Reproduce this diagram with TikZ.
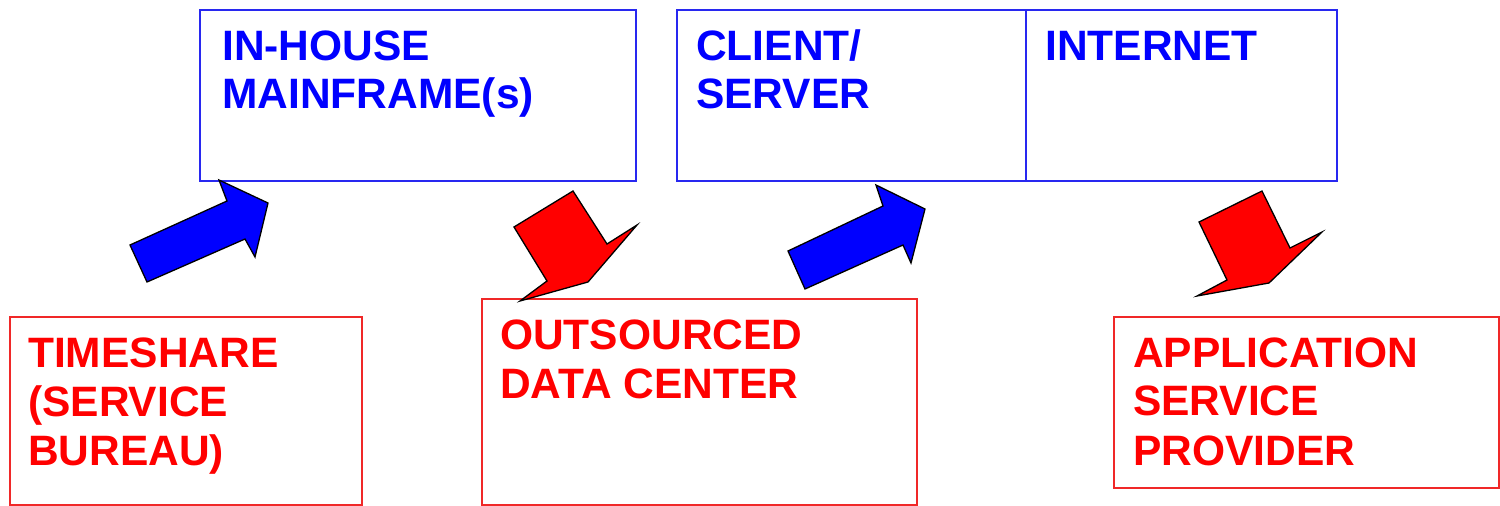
\documentclass[tikz,border=0pt]{standalone}
\usepackage{fontspec}
\setmainfont{Liberation Sans}
\definecolor{bluetxt}{RGB}{0,0,255}
\definecolor{blueline}{RGB}{40,40,240}
\definecolor{redtxt}{RGB}{255,0,0}
\definecolor{redline}{RGB}{240,40,40}
\begin{document}
\begin{tikzpicture}[x=1pt,y=-1pt,
  bluebox/.style={draw=blueline,line width=1.5pt},
  redbox/.style={draw=redline,line width=1.5pt},
  btxt/.style={anchor=base west,inner sep=0pt,text=bluetxt,font=\fontsize{42.5}{49}\selectfont\bfseries},
  rtxt/.style={anchor=base west,inner sep=0pt,text=redtxt,font=\fontsize{42.5}{49}\selectfont\bfseries},
  bluearrow/.style={fill=bluetxt,draw=black,line width=1.3pt,line join=miter},
  redarrow/.style={fill=redtxt,draw=black,line width=1.3pt,line join=miter}]
\useasboundingbox (0,0) rectangle (1500,506);
% top boxes
\draw[bluebox] (200,10) rectangle (636,181);
\draw[bluebox] (677,10) rectangle (1337,181);
\draw[bluebox] (1026,10) -- (1026,181);
\node[btxt] (ih1) at (222,60) {IN-HOUSE};
\node[btxt] (ih2) at (222,108) {MAINFRAME(s)};
\node[btxt] (cs1) at (696,60) {CLIENT/};
\node[btxt] (cs2) at (696,108) {SERVER};
\node[btxt] (inet) at (1045,60) {INTERNET};
% bottom boxes
\draw[redbox] (10,317) rectangle (362,505);
\draw[redbox] (482,299) rectangle (917,505);
\draw[redbox] (1114,317) rectangle (1499,488);
\node[rtxt] (ts1) at (28,367) {TIMESHARE};
\node[rtxt] (ts2) at (28,416) {(SERVICE};
\node[rtxt] (ts3) at (28,465) {BUREAU)};
\node[rtxt] (od1) at (500,349) {OUTSOURCED};
\node[rtxt] (od2) at (500,398) {DATA CENTER};
\node[rtxt] (asp1) at (1133,367) {APPLICATION};
\node[rtxt] (asp2) at (1133,415) {SERVICE};
\node[rtxt] (asp3) at (1133,465) {PROVIDER};
% arrows
\draw[bluearrow] (130,245) -- (227,201) -- (219,180) -- (268,203) -- (255,257) -- (245,239) -- (147,282) -- cycle;
\draw[redarrow] (514,227) -- (573,191) -- (607,244) -- (637,225) -- (588,282) -- (520,301) -- (547,281) -- cycle;
\draw[bluearrow] (788,251) -- (883,206) -- (876,185) -- (925,209) -- (911,263) -- (903,245) -- (805,289) -- cycle;
\draw[redarrow] (1199,222) -- (1262,191) -- (1290,248) -- (1322,232) -- (1269,283) -- (1197,296) -- (1227,280) -- cycle;
\end{tikzpicture}
\end{document}
